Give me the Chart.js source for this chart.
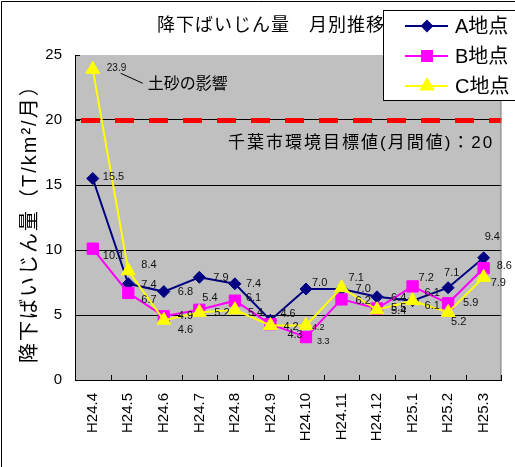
<!DOCTYPE html>
<html>
<head>
<meta charset="utf-8">
<script src="https://cdn.jsdelivr.net/npm/chart.js@4/dist/chart.umd.min.js"></script>
<style>
  html, body { margin: 0; padding: 0; background: #fff; }
  #wrap { width: 515px; height: 467px; position: relative; }
</style>
</head>
<body>
<div id="wrap"><canvas id="c" width="515" height="467"></canvas></div>
<script>
// ─── DATA ────────────────────────────────────────────────────────────────────
const months = ['H24.4', 'H24.5', 'H24.6', 'H24.7', 'H24.8', 'H24.9', 'H24.10', 'H24.11', 'H24.12', 'H25.1', 'H25.2', 'H25.3'];
const siteA = [15.5, 7.4, 6.8, 7.9, 7.4, 4.6, 7.0, 7.0, 6.4, 6.1, 7.1, 9.4];
const siteB = [10.1, 6.7, 4.9, 5.4, 6.1, 4.3, 3.3, 6.2, 5.5, 7.2, 5.9, 8.6];
const siteC = [23.9, 8.4, 4.6, 5.2, 5.4, 4.2, 4.2, 7.1, 5.4, 6.1, 5.2, 7.9];
const seriesNames = ['A地点', 'B地点', 'C地点'];
const yTicks = [0, 5, 10, 15, 20, 25];
const targetValue = 20;

const FONT = '"Liberation Sans", "Noto Sans CJK JP", sans-serif';

// label placement (Excel put them by hand), offsets from the point in px
const labelOffsets = [
  [[10,-2],[13,1],[14,0],[14,1],[11,0],[10,-6],[6,-6],[14,0],[14,1],[12,-8],[-4,-15],[1,-21]],
  [[10,7],[13,7],[14,0],[3,-12],[11,-3],[17,11],[11,4],[14,2],[14,-1],[6,-8],[15,0],[13,-2]],
  [[14,-1],[13,-6],[14,10],[15,1],[13,3],[13,2],[6,2],[7,-10],[14,1],[12,5],[3,10],[7,6]]
];
const smallLabels = { '1-6': 9, '2-6': 9, '2-0': 10 };

// ─── PLUGINS ─────────────────────────────────────────────────────────────────
const plotBg = {
  id: 'plotBg',
  beforeDraw(chart) {
    const { ctx, chartArea: a } = chart;
    ctx.save();
    ctx.fillStyle = '#fff';
    ctx.fillRect(0, 0, chart.width, chart.height);
    ctx.fillStyle = '#c0c0c0';
    ctx.fillRect(a.left, a.top, a.right - a.left, a.bottom - a.top);
    // frame
    ctx.strokeStyle = '#000';
    ctx.lineWidth = 1;
    ctx.beginPath();
    ctx.moveTo(1.5, chart.height);
    ctx.lineTo(1.5, 1.5);
    ctx.lineTo(chart.width, 1.5);
    ctx.stroke();
    ctx.restore();
  },
  beforeDatasetsDraw(chart) {
    const { ctx, chartArea: a, scales } = chart;
    const y = Math.round(scales.y.getPixelForValue(targetValue));
    ctx.save();
    // red target line over the grid line
    ctx.strokeStyle = '#ff0000';
    ctx.lineWidth = 5;
    ctx.setLineDash([19, 15]);
    ctx.beginPath();
    ctx.moveTo(a.left + 6, y + 0.5);
    ctx.lineTo(a.right, y + 0.5);
    ctx.stroke();
    ctx.setLineDash([]);
    // right border of plot
    ctx.strokeStyle = '#808080';
    ctx.lineWidth = 1;
    ctx.beginPath();
    ctx.moveTo(a.right - 0.5, a.top);
    ctx.lineTo(a.right - 0.5, a.bottom);
    ctx.stroke();
    // inner tick marks
    ctx.strokeStyle = '#000';
    const step = scales.x.getPixelForValue(1) - scales.x.getPixelForValue(0);
    ctx.beginPath();
    for (let i = 0; i < months.length; i++) {
      const x = Math.round(scales.x.getPixelForValue(i) + step / 2) + 0.5;
      ctx.moveTo(x, a.bottom);
      ctx.lineTo(x, a.bottom - 5);
    }
    yTicks.forEach(v => {
      const yy = Math.round(scales.y.getPixelForValue(v)) + 0.5;
      ctx.moveTo(a.left, yy);
      ctx.lineTo(a.left + 5, yy);
    });
    ctx.stroke();
    // target caption
    ctx.fillStyle = '#000';
    ctx.font = '17px ' + FONT;
    ctx.letterSpacing = '2px';
    ctx.textAlign = 'left';
    ctx.textBaseline = 'middle';
    ctx.fillText('千葉市環境目標値(月間値)：' + targetValue, 228, y + 23);
    ctx.restore();
  },
  afterDatasetsDraw(chart) {
    const { ctx } = chart;
    ctx.save();
    ctx.fillStyle = '#111';
    ctx.textAlign = 'left';
    ctx.textBaseline = 'middle';
    chart.data.datasets.forEach((ds, di) => {
      const meta = chart.getDatasetMeta(di);
      meta.data.forEach((pt, i) => {
        const off = labelOffsets[di][i];
        const sz = smallLabels[di + '-' + i] || 11;
        ctx.font = sz + 'px ' + FONT;
        ctx.fillText(ds.data[i].toFixed(1), pt.x + off[0], pt.y + off[1]);
      });
    });
    // annotation for C at H24.4
    const p = chart.getDatasetMeta(2).data[0];
    ctx.strokeStyle = '#000';
    ctx.lineWidth = 1;
    ctx.beginPath();
    ctx.moveTo(p.x + 28, p.y + 4);
    ctx.lineTo(p.x + 50, p.y + 14);
    ctx.stroke();
    ctx.font = '16px ' + FONT;
    ctx.fillStyle = '#000';
    ctx.fillText('土砂の影響', p.x + 55, p.y + 15);
    ctx.restore();
  },
  afterDraw(chart) {
    const { ctx } = chart;
    ctx.save();
    // title
    ctx.fillStyle = '#000';
    ctx.font = '18px ' + FONT;
    ctx.letterSpacing = '1px';
    ctx.textAlign = 'left';
    ctx.textBaseline = 'middle';
    ctx.fillText('降下ばいじん量　月別推移', 157, 26);
    // y title
    ctx.save();
    ctx.translate(30, 363);
    ctx.rotate(-Math.PI / 2);
    ctx.font = '20px ' + FONT;
    ctx.letterSpacing = '2px';
    ctx.fillText('降下ばいじん量（T/km²/月）', 0, 0);
    ctx.restore();
    ctx.letterSpacing = '0px';
    // legend
    ctx.fillStyle = '#fff';
    ctx.strokeStyle = '#000';
    ctx.lineWidth = 1;
    ctx.fillRect(383.5, 10.5, 140, 90);
    ctx.strokeRect(383.5, 10.5, 140, 90);
    chart.data.datasets.forEach((ds, di) => {
      const y = 26 + di * 30;
      ctx.strokeStyle = ds.borderColor;
      ctx.lineWidth = 2;
      ctx.beginPath();
      ctx.moveTo(405, y);
      ctx.lineTo(448, y);
      ctx.stroke();
      Chart.helpers.drawPoint(ctx, {
        pointStyle: ds.pointStyle, radius: ds.pointRadius - 1, rotation: 0, borderWidth: 1
      }, 427, y);
      ctx.fillStyle = ds.backgroundColor;
      ctx.fill();
      ctx.fillStyle = '#000';
      ctx.font = '20px ' + FONT;
      ctx.textAlign = 'left';
      ctx.fillText(seriesNames[di], 455, y + 1);
    });
    ctx.restore();
  }
};

// ─── CHART ───────────────────────────────────────────────────────────────────
const mk = (label, data, color, style, r, order) => ({
  label, data, order,
  borderColor: color, backgroundColor: color,
  pointBackgroundColor: color, pointBorderColor: color,
  pointStyle: style, pointRadius: r, pointBorderWidth: 1,
  borderWidth: 2, tension: 0, fill: false
});

new Chart(document.getElementById('c'), {
  type: 'line',
  data: {
    labels: months,
    datasets: [
      mk(seriesNames[0], siteA, '#000080', 'rectRot', 6, 3),
      mk(seriesNames[1], siteB, '#ff00ff', 'rect', 8, 2),
      mk(seriesNames[2], siteC, '#ffff00', 'triangle', 8, 1)
    ]
  },
  options: {
    responsive: false,
    animation: false,
    layout: { padding: { top: 55, right: 3, left: 0, bottom: 0 } },
    plugins: { legend: { display: false }, title: { display: false }, tooltip: { enabled: false } },
    scales: {
      x: {
        offset: true,
        grid: { display: false, drawTicks: false },
        border: { color: '#000', width: 1 },
        ticks: { color: '#000', font: { family: FONT, size: 15 }, minRotation: 90, maxRotation: 90, padding: 13, autoSkip: false },
        afterFit(s) { s.height = 87; }
      },
      y: {
        min: 0, max: 25,
        afterBuildTicks(s) { s.ticks = yTicks.map(v => ({ value: v })); },
        grid: {
          drawTicks: false,
          color: c => (c.tick && (c.tick.value === 0 || c.tick.value === 25)) ? 'rgba(0,0,0,0)' : '#000',
          lineWidth: 1
        },
        border: { color: '#000', width: 1 },
        ticks: { color: '#000', font: { family: FONT, size: 15 }, padding: 13 },
        afterFit(s) { s.width = 75; }
      }
    }
  },
  plugins: [plotBg]
});
</script>
</body>
</html>
